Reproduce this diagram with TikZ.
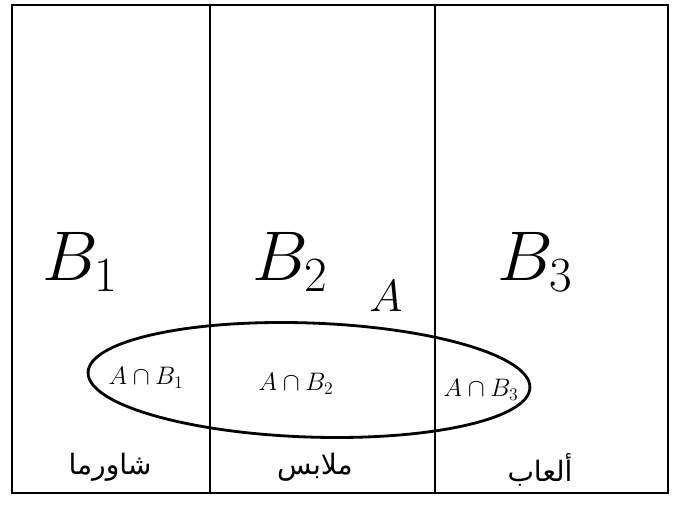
\RequirePackage{fix-cm}
\documentclass[tikz,border=0pt]{standalone}
\usepackage{amsmath}
\usepackage{fontspec}
\newfontfamily\arabicfont[Script=Arabic]{DejaVu Sans}
\TeXXeTstate=1
\usetikzlibrary{positioning,shapes.geometric}
\tikzset{
    partLine/.style={
        line width=2pt,
        line cap=round
    },
    partName/.style={
        font=\fontsize{50}{56}\selectfont
    },
    setName/.style={
        font=\fontsize{32}{36}\selectfont
    },
    cutName/.style={
        font=\fontsize{18}{22}\selectfont
    },
    shopName/.style={
        font=\fontsize{20}{24}\selectfont\arabicfont
    }
}
\begin{document}
\begin{tikzpicture}[x=0.025cm,y=-0.025cm]
    \useasboundingbox (0,0) rectangle (677,510);

    \coordinate (frameNW) at (12,5);
    \coordinate (frameSE) at (668,493);
    \coordinate (cutOneTop) at (210,5);
    \coordinate (cutOneBottom) at (210,493);
    \coordinate (cutTwoTop) at (435,5);
    \coordinate (cutTwoBottom) at (435,493);

    \draw[partLine] (frameNW) rectangle (frameSE);
    \draw[partLine] (cutOneTop) -- (cutOneBottom);
    \draw[partLine] (cutTwoTop) -- (cutTwoBottom);

    \node[partName] (bOne) at (80,262) {$B_1$};
    \node[partName] (bTwo) at (290,262) {$B_2$};
    \node[partName] (bThree) at (535,262) {$B_3$};
    \node[setName] (setA) at (386,296) {$A$};

    \node[draw,ellipse,partLine,minimum width=11.05cm,minimum height=2.85cm,rotate=-2] (setOval) at (309,380) {};

    \node[cutName] (cutOne) at (146,378) {$A\cap B_1$};
    \node[cutName] (cutTwo) at (296,384) {$A\cap B_2$};
    \node[cutName] (cutThree) at (481,390) {$A\cap B_3$};

    \node[shopName] (shopOne) at (110,467) {\beginR شاورما\endR};
    \node[shopName] (shopTwo) at (315,467) {\beginR ملابس\endR};
    \node[shopName] (shopThree) at (540,470) {\beginR ألعاب\endR};
\end{tikzpicture}
\end{document}
